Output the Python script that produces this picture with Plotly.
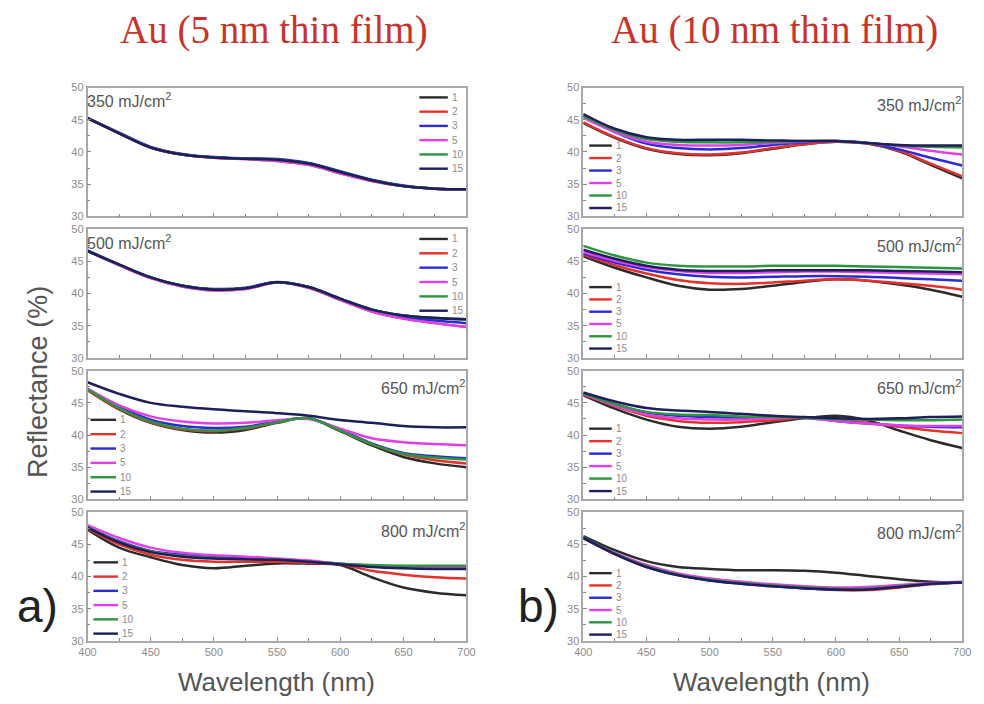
import plotly.graph_objects as go
from plotly.subplots import make_subplots

# Wavelength grid (nm)
wavelength = [400, 425, 450, 475, 500, 525, 550, 575, 600, 625, 650, 675, 700]

pulse_labels = ["1", "2", "3", "5", "10", "15"]
pulse_colors = ["#2b2b2b", "#e8302a", "#2a2ad6", "#e040e8", "#2f9440", "#1e1e5c"]

# ---- Au 5 nm film, reflectance (%) per pulse count ----
a350 = {
    "1":  [45.25, 42.9, 40.7, 39.6, 39.15, 38.95, 38.8, 38.2, 36.9, 35.6, 34.7, 34.3, 34.2],
    "2":  [45.2, 42.9, 40.7, 39.6, 39.1, 38.9, 38.6, 38.0, 36.7, 35.5, 34.7, 34.3, 34.2],
    "3":  [45.3, 43.0, 40.8, 39.7, 39.2, 39.0, 38.9, 38.3, 37.0, 35.7, 34.8, 34.3, 34.2],
    "5":  [45.2, 42.9, 40.7, 39.6, 39.1, 38.9, 38.6, 38.0, 36.7, 35.5, 34.7, 34.3, 34.2],
    "10": [45.25, 42.9, 40.7, 39.6, 39.15, 38.95, 38.8, 38.2, 36.9, 35.6, 34.7, 34.3, 34.2],
    "15": [45.25, 42.9, 40.7, 39.6, 39.15, 38.95, 38.8, 38.2, 36.9, 35.6, 34.7, 34.3, 34.2],
}
a500 = {
    "1":  [46.6, 44.5, 42.5, 41.2, 40.6, 40.8, 41.75, 41.0, 39.2, 37.5, 36.6, 36.2, 36.0],
    "2":  [46.6, 44.4, 42.4, 41.1, 40.5, 40.7, 41.7, 40.9, 39.0, 37.2, 36.1, 35.4, 34.8],
    "3":  [46.7, 44.5, 42.5, 41.2, 40.7, 40.9, 41.8, 41.0, 39.1, 37.4, 36.4, 35.8, 35.4],
    "5":  [46.6, 44.4, 42.4, 41.1, 40.5, 40.7, 41.7, 40.9, 39.0, 37.2, 36.1, 35.4, 34.8],
    "10": [46.6, 44.5, 42.5, 41.2, 40.6, 40.8, 41.75, 41.0, 39.2, 37.5, 36.6, 36.2, 36.0],
    "15": [46.6, 44.5, 42.5, 41.2, 40.6, 40.8, 41.75, 41.0, 39.2, 37.5, 36.6, 36.2, 36.0],
}
a650 = {
    "1":  [47.0, 44.0, 41.9, 40.8, 40.4, 40.8, 41.9, 42.6, 40.6, 38.4, 36.6, 35.6, 35.0],
    "2":  [47.0, 44.1, 42.0, 40.9, 40.6, 41.0, 42.0, 42.6, 40.7, 38.6, 37.0, 36.1, 35.6],
    "3":  [47.2, 44.4, 42.4, 41.4, 41.1, 41.3, 42.1, 42.6, 40.8, 38.7, 37.2, 36.7, 36.4],
    "5":  [47.2, 44.6, 42.9, 42.1, 41.8, 41.9, 42.3, 42.5, 41.0, 39.5, 38.9, 38.6, 38.4],
    "10": [47.1, 44.2, 42.1, 41.0, 40.7, 41.1, 42.0, 42.6, 40.7, 38.6, 37.1, 36.5, 36.2],
    "15": [48.2, 46.4, 45.0, 44.4, 44.0, 43.7, 43.4, 43.0, 42.35, 41.9, 41.4, 41.2, 41.2],
}
a800 = {
    "1":  [47.3, 44.5, 43.0, 41.8, 41.3, 41.7, 42.05, 42.0, 41.8, 39.9, 38.3, 37.5, 37.1],
    "2":  [47.5, 45.0, 43.4, 42.6, 42.3, 42.3, 42.3, 42.1, 41.9, 40.9, 40.3, 39.9, 39.7],
    "3":  [47.7, 45.5, 44.0, 43.4, 43.1, 42.9, 42.7, 42.4, 42.0, 41.6, 41.4, 41.3, 41.3],
    "5":  [48.0, 46.0, 44.5, 43.7, 43.3, 43.1, 42.8, 42.5, 42.0, 41.7, 41.5, 41.4, 41.4],
    "10": [47.7, 45.4, 43.9, 43.2, 42.9, 42.7, 42.6, 42.3, 42.0, 41.8, 41.7, 41.7, 41.7],
    "15": [47.6, 45.3, 43.8, 43.1, 42.8, 42.7, 42.6, 42.3, 41.9, 41.5, 41.3, 41.2, 41.2],
}

# ---- Au 10 nm film, reflectance (%) per pulse count ----
b350 = {
    "1":  [44.5, 42.2, 40.5, 39.7, 39.5, 39.8, 40.5, 41.2, 41.6, 41.3, 40.1, 38.0, 35.9],
    "2":  [44.6, 42.3, 40.6, 39.8, 39.6, 39.9, 40.6, 41.2, 41.6, 41.3, 40.2, 38.2, 36.2],
    "3":  [45.6, 43.1, 41.3, 40.6, 40.4, 40.6, 41.1, 41.5, 41.7, 41.4, 40.4, 39.1, 37.9],
    "5":  [45.3, 43.1, 41.6, 41.1, 41.0, 41.1, 41.4, 41.6, 41.7, 41.4, 40.9, 40.2, 39.6],
    "10": [45.6, 43.4, 42.0, 41.6, 41.5, 41.5, 41.6, 41.7, 41.7, 41.4, 41.0, 40.8, 40.7],
    "15": [45.9, 43.6, 42.3, 41.9, 41.9, 41.9, 41.8, 41.7, 41.7, 41.4, 41.1, 41.0, 41.0],
}
b500 = {
    "1":  [45.8, 44.0, 42.5, 41.2, 40.6, 40.7, 41.2, 41.8, 42.2, 42.0, 41.4, 40.6, 39.5],
    "2":  [46.0, 44.4, 43.1, 42.1, 41.6, 41.5, 41.7, 42.0, 42.2, 42.0, 41.6, 41.2, 40.6],
    "3":  [46.2, 44.8, 43.7, 43.0, 42.6, 42.5, 42.6, 42.7, 42.7, 42.6, 42.4, 42.2, 42.0],
    "5":  [46.4, 45.1, 44.1, 43.5, 43.2, 43.2, 43.3, 43.4, 43.4, 43.3, 43.2, 43.1, 43.0],
    "10": [47.4, 45.9, 44.8, 44.3, 44.2, 44.2, 44.3, 44.3, 44.3, 44.2, 44.1, 44.0, 43.9],
    "15": [46.8, 45.4, 44.3, 43.7, 43.5, 43.5, 43.6, 43.6, 43.6, 43.6, 43.5, 43.4, 43.3],
}
b650 = {
    "1":  [46.2, 44.1, 42.4, 41.3, 41.0, 41.3, 42.0, 42.6, 43.0, 42.3, 40.7, 39.2, 38.0],
    "2":  [46.3, 44.5, 43.0, 42.2, 41.9, 42.0, 42.3, 42.7, 42.4, 41.9, 41.3, 40.7, 40.3],
    "3":  [46.4, 44.8, 43.5, 43.0, 42.8, 42.7, 42.7, 42.7, 42.2, 41.8, 41.5, 41.3, 41.2],
    "5":  [46.4, 44.6, 43.2, 42.6, 42.4, 42.4, 42.6, 42.7, 42.2, 41.8, 41.5, 41.4, 41.4],
    "10": [46.5, 44.8, 43.6, 43.2, 43.1, 42.9, 42.8, 42.7, 42.5, 42.4, 42.3, 42.3, 42.4],
    "15": [46.6, 45.2, 44.2, 43.8, 43.6, 43.3, 43.0, 42.8, 42.6, 42.5, 42.6, 42.8, 42.9],
}
b800 = {
    "1":  [46.3, 44.1, 42.4, 41.5, 41.2, 41.0, 41.0, 40.9, 40.6, 40.1, 39.6, 39.2, 39.1],
    "2":  [46.0, 43.5, 41.5, 40.3, 39.5, 39.0, 38.6, 38.2, 37.9, 37.9, 38.3, 38.8, 39.1],
    "3":  [46.0, 43.6, 41.6, 40.3, 39.4, 38.9, 38.5, 38.2, 38.0, 38.1, 38.5, 38.9, 39.1],
    "5":  [45.9, 43.7, 41.8, 40.5, 39.7, 39.2, 38.8, 38.5, 38.3, 38.4, 38.7, 39.0, 39.2],
    "10": [46.1, 43.6, 41.6, 40.3, 39.5, 39.0, 38.6, 38.3, 38.1, 38.1, 38.5, 38.9, 39.1],
    "15": [46.0, 43.5, 41.5, 40.2, 39.4, 38.9, 38.5, 38.2, 38.0, 38.0, 38.4, 38.9, 39.1],
}

fluence_labels = ["350", "500", "650", "800"]
film_a = [a350, a500, a650, a800]
film_b = [b350, b500, b650, b800]

W, H = 984, 704
col_x = [(80, 466), (585, 971)]           # panel left/right in px
row_y = [(83, 214), (227, 358), (371, 502), (515, 646)]  # panel top/bottom in px

fig = make_subplots(rows=4, cols=2)

GRAY_TXT = "#8c8c8c"
FRAME = "#a8a8a8"

for c, film in enumerate([film_a, film_b]):
    for r, data in enumerate(film):
        for lab, col in zip(pulse_labels, pulse_colors):
            fig.add_trace(
                go.Scatter(x=wavelength, y=data[lab], name=lab, mode="lines",
                           line=dict(color=col, width=2.5, shape="spline", smoothing=1.0),
                           showlegend=False, hoverinfo="skip"),
                row=r + 1, col=c + 1)

# axis layout for each panel
for c in range(2):
    x0, x1 = col_x[c]
    for r in range(4):
        y0, y1 = row_y[r]
        fig.update_xaxes(
            row=r + 1, col=c + 1,
            domain=[x0 / W, x1 / W], range=[400, 700], dtick=50, tick0=400,
            ticks="inside", ticklen=4, tickcolor="#888", tickwidth=1,
            minor=dict(dtick=25, ticks="inside", ticklen=3, tickcolor="#888"),
            showline=True, linecolor=FRAME, linewidth=1.5, mirror=True,
            showgrid=False, zeroline=False,
            showticklabels=(r == 3),
            tickfont=dict(family="Liberation Sans", size=11, color=GRAY_TXT),
        )
        fig.update_yaxes(
            row=r + 1, col=c + 1,
            domain=[1 - y1 / H, 1 - y0 / H], range=[30, 50], dtick=5, tick0=30,
            ticks="inside", ticklen=4, tickcolor="#888", tickwidth=1,
            minor=dict(dtick=2.5, ticks="inside", ticklen=3, tickcolor="#888"),
            showline=True, linecolor=FRAME, linewidth=1.5, mirror=True,
            showgrid=False, zeroline=False,
            tickfont=dict(family="Liberation Sans", size=11, color=GRAY_TXT),
        )

annotations = []
shapes = []

# fluence labels inside each panel: (anchor side, y offset px)
fluence_pos = [
    [("left", 13), ("left", 13), ("right", 17), ("right", 18)],
    [("right", 17), ("right", 16), ("right", 17), ("right", 20)],
]
for c in range(2):
    for r in range(4):
        side, dy = fluence_pos[c][r]
        ph = row_y[r][1] - row_y[r][0]
        ax = "x" if (r * 2 + c) == 0 else f"x{r * 2 + c + 1}"
        ay = "y" if (r * 2 + c) == 0 else f"y{r * 2 + c + 1}"
        annotations.append(dict(
            text=f"{fluence_labels[r]} mJ/cm<sup>2</sup>",
            xref=f"{ax} domain", yref=f"{ay} domain",
            x=0.0 if side == "left" else 1.0, y=1 - dy / ph,
            xanchor=side, yanchor="middle",
            xshift=(-3 if side == "left" else 1),
            showarrow=False,
            font=dict(family="Liberation Sans", size=16, color="#555")))

# pulse-count keys: (line start px, line end px, first row offset px, spacing px)
key_pos = [
    [(338, 367, 10, 14.5), (338, 367, 10, 14.6), (3, 29, 50, 14.6), (6, 31, 51, 14.5)],
    [(6, 29, 59, 12.7), (6, 29, 59, 12.5), (6, 29, 59, 12.7), (6, 29, 62, 12.5)],
]
for c in range(2):
    pw = col_x[c][1] - col_x[c][0]
    for r in range(4):
        ph = row_y[r][1] - row_y[r][0]
        ax = "x" if (r * 2 + c) == 0 else f"x{r * 2 + c + 1}"
        ay = "y" if (r * 2 + c) == 0 else f"y{r * 2 + c + 1}"
        lx0, lx1, top, step = key_pos[c][r]
        for i, (lab, col) in enumerate(zip(pulse_labels, pulse_colors)):
            yy = 1 - (top + i * step) / ph
            shapes.append(dict(type="line", xref=f"{ax} domain", yref=f"{ay} domain",
                               x0=lx0 / pw, x1=lx1 / pw, y0=yy, y1=yy,
                               line=dict(color=col, width=2.4)))
            annotations.append(dict(text=lab, xref=f"{ax} domain", yref=f"{ay} domain",
                                    x=(lx1 + 2) / pw, y=yy, xanchor="left", yanchor="middle",
                                    showarrow=False,
                                    font=dict(family="Liberation Sans", size=10, color=GRAY_TXT)))

# column titles
for txt, cx in [("Au (5 nm thin film)", 270), ("Au (10 nm thin film)", 780)]:
    annotations.append(dict(text=txt, xref="paper", yref="paper", x=cx / W, y=1 - 24 / H,
                            xanchor="center", yanchor="middle", showarrow=False,
                            font=dict(family="Liberation Serif", size=39, color="#c8332c")))

# axis titles
for cx in [272, 777]:
    annotations.append(dict(text="Wavelength (nm)", xref="paper", yref="paper",
                            x=cx / W, y=1 - 688 / H, xanchor="center", yanchor="middle",
                            showarrow=False,
                            font=dict(family="Liberation Sans", size=26, color="#555")))
annotations.append(dict(text="Reflectance (%)", xref="paper", yref="paper",
                        x=30 / W, y=1 - 382 / H, xanchor="center", yanchor="middle",
                        textangle=-90, showarrow=False,
                        font=dict(family="Liberation Sans", size=27, color="#555")))

# panel letters
for txt, cx in [("a)", 29), ("b)", 539)]:
    annotations.append(dict(text=txt, xref="paper", yref="paper", x=cx / W, y=1 - 610 / H,
                            xanchor="center", yanchor="middle", showarrow=False,
                            font=dict(family="Liberation Sans", size=46, color="#222")))

fig.update_layout(
    width=W, height=H, margin=dict(l=0, r=0, t=0, b=0),
    paper_bgcolor="white", plot_bgcolor="white",
    showlegend=False, annotations=annotations, shapes=shapes,
)

fig.write_html("out.html")
